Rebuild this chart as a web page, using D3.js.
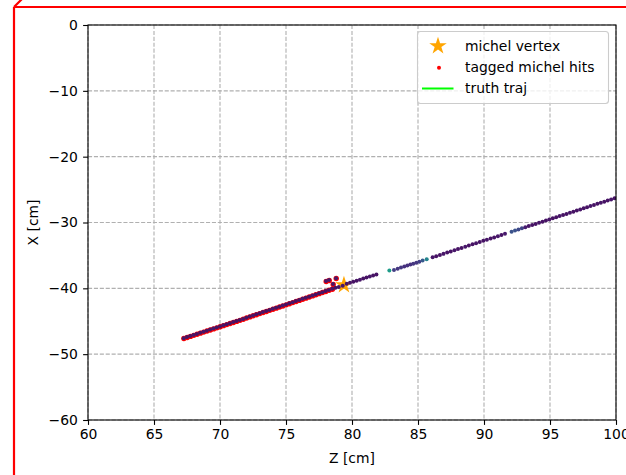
<!DOCTYPE html>
<html><head><meta charset="utf-8">
<script src="https://cdn.jsdelivr.net/npm/d3@7"></script>
<style>body{margin:0;background:#fff} svg{display:block} text{font-family:"DejaVu Sans",sans-serif}</style>
</head><body><svg id="c" width="626" height="475"></svg>
<script>
const xTicks=[60,65,70,75,80,85,90,95,100];
const yTicks=[0,-10,-20,-30,-40,-50,-60];
const xDomain=[60,100], yDomain=[-60,0];

// all reconstructed hits (Z, X, normalised charge for viridis colour)
const hitZ=[67.25,67.50,67.75,68.00,68.25,68.50,68.75,69.00,69.25,69.50,69.75,70.00,70.25,70.50,70.75,71.00,71.25,71.50,71.75,72.00,72.25,72.50,72.75,73.00,73.25,73.50,73.75,74.00,74.25,74.50,74.75,75.00,75.25,75.50,75.75,76.00,76.25,76.50,76.75,77.00,77.25,77.50,77.75,78.00,78.25,78.50,
 78.75,79.00,79.30,
 79.60,79.85,80.10,80.35,80.60,80.85,81.10,81.35,81.60,81.85,
 78.03,78.26,78.79,78.56,
 82.83,83.18,83.46,83.71,83.96,84.19,84.42,84.64,84.87,85.10,85.35,85.66,
 86.11,86.38,86.66,86.93,87.21,87.48,87.76,88.03,88.30,88.58,88.85,89.13,89.40,89.68,89.95,90.22,90.50,90.77,91.05,91.32,91.59,
 92.09,92.35,92.61,92.87,93.13,93.39,93.65,93.91,94.17,94.43,94.69,94.95,95.21,95.47,95.73,95.99,96.25,96.51,96.77,97.03,97.29,97.55,97.81,98.07,98.33,98.59,98.85,99.11,99.37,99.63,99.89];
const hitX=[-47.57,-47.40,-47.24,-47.08,-46.92,-46.75,-46.59,-46.43,-46.27,-46.10,-45.94,-45.78,-45.61,-45.45,-45.29,-45.13,-44.96,-44.80,-44.64,-44.45,-44.28,-44.11,-43.95,-43.78,-43.61,-43.45,-43.28,-43.12,-42.95,-42.78,-42.62,-42.45,-42.28,-42.11,-41.94,-41.77,-41.60,-41.43,-41.26,-41.09,-40.92,-40.75,-40.58,-40.41,-40.24,-40.07,
 -39.92,-39.78,-39.60,
 -39.30,-39.15,-39.00,-38.85,-38.70,-38.50,-38.35,-38.20,-38.05,-37.90,
 -38.90,-38.75,-38.45,-39.36,
 -37.30,-37.20,-37.01,-36.85,-36.69,-36.54,-36.39,-36.25,-36.10,-35.95,-35.78,-35.58,
 -35.29,-35.11,-34.93,-34.76,-34.57,-34.40,-34.22,-34.04,-33.86,-33.68,-33.51,-33.32,-33.15,-32.97,-32.79,-32.61,-32.43,-32.26,-32.07,-31.90,-31.72,
 -31.40,-31.23,-31.06,-30.89,-30.72,-30.55,-30.38,-30.21,-30.04,-29.87,-29.70,-29.53,-29.37,-29.20,-29.03,-28.86,-28.69,-28.52,-28.35,-28.18,-28.01,-27.84,-27.67,-27.50,-27.33,-27.16,-27.00,-26.83,-26.66,-26.49,-26.32];
const hitQ=[0.06,0.05,0.05,0.06,0.05,0.05,0.06,0.05,0.05,0.06,0.05,0.05,0.06,0.05,0.05,0.06,0.05,0.05,0.06,0.05,0.05,0.06,0.05,0.05,0.06,0.05,0.05,0.06,0.05,0.05,0.06,0.05,0.05,0.06,0.05,0.05,0.06,0.05,0.05,0.06,0.05,0.05,0.06,0.05,0.05,0.06,
 0.05,0.05,0.06,
 0.05,0.06,0.05,0.05,0.06,0.05,0.05,0.06,0.05,0.05,
 0.06,0.06,0.06,0.06,
 0.55,0.18,0.16,0.16,0.14,0.14,0.14,0.16,0.16,0.18,0.28,0.45,
 0.06,0.05,0.05,0.06,0.05,0.05,0.06,0.05,0.05,0.06,0.05,0.05,0.06,0.05,0.05,0.06,0.05,0.05,0.06,0.05,0.07,
 0.25,0.25,0.22,0.20,0.08,0.06,0.05,0.05,0.06,0.05,0.05,0.06,0.05,0.05,0.06,0.05,0.05,0.06,0.05,0.05,0.06,0.05,0.05,0.06,0.05,0.05,0.06,0.05,0.05,0.06,0.05];

// tagged michel hits
const michelZ=[67.25,67.50,67.75,68.00,68.25,68.50,68.75,69.00,69.25,69.50,69.75,70.00,70.25,70.50,70.75,71.00,71.25,71.50,71.75,72.00,72.25,72.50,72.75,73.00,73.25,73.50,73.75,74.00,74.25,74.50,74.75,75.00,75.25,75.50,75.75,76.00,76.25,76.50,76.75,77.00,77.25,77.50,77.75,78.00,78.25,78.50,78.03,78.26,78.79,78.56];
const michelX=[-47.57,-47.40,-47.24,-47.08,-46.92,-46.75,-46.59,-46.43,-46.27,-46.10,-45.94,-45.78,-45.61,-45.45,-45.29,-45.13,-44.96,-44.80,-44.64,-44.45,-44.28,-44.11,-43.95,-43.78,-43.61,-43.45,-43.28,-43.12,-42.95,-42.78,-42.62,-42.45,-42.28,-42.11,-41.94,-41.77,-41.60,-41.43,-41.26,-41.09,-40.92,-40.75,-40.58,-40.41,-40.24,-40.07,-38.90,-38.75,-38.45,-39.36];

// michel vertex
const vertexZ=[79.39], vertexX=[-39.50];

const legendLabels=["michel vertex","tagged michel hits","truth traj"];

const svg=d3.select("#c");
const L=88,R=616,T=25,B=420;
const x=d3.scaleLinear().domain(xDomain).range([L,R]);
const y=d3.scaleLinear().domain(yDomain).range([B,T]);
const color=d3.scaleSequential(d3.interpolateViridis).domain([0,1]);
const FS="13.9px";

// red outer frame
svg.append("path").attr("d","M14,7 L640,7 M14,7 L14,480 M14,7 L24,-3")
  .attr("fill","none").attr("stroke","#ff0000").attr("stroke-width",2.2);

// grid
const g=svg.append("g");
g.selectAll(".gx").data(xTicks).join("line")
  .attr("x1",d=>x(d)).attr("x2",d=>x(d)).attr("y1",T).attr("y2",B)
  .attr("stroke","#b0b0b0").attr("stroke-width",1.1).attr("stroke-dasharray","4.1,1.8");
g.selectAll(".gy").data(yTicks).join("line")
  .attr("y1",d=>y(d)).attr("y2",d=>y(d)).attr("x1",L).attr("x2",R)
  .attr("stroke","#b0b0b0").attr("stroke-width",1.1).attr("stroke-dasharray","4.1,1.8");

svg.append("clipPath").attr("id","clip").append("rect").attr("x",L).attr("y",T).attr("width",R-L).attr("height",B-T);
const plot=svg.append("g").attr("clip-path","url(#clip)");

// vertex star
plot.selectAll(".vtx").data(vertexZ).join("path")
  .attr("d",d3.symbol(d3.symbolStar,95))
  .attr("transform",(d,i)=>`translate(${x(d)},${y(vertexX[i])})`)
  .attr("fill","#ffa500");
// tagged michel hits
plot.selectAll(".mh").data(michelZ).join("circle")
  .attr("cx",d=>x(d)+0.2).attr("cy",(d,i)=>y(michelX[i])+0.4).attr("r",2.7).attr("fill","#ff0000");
// hits
plot.selectAll(".hit").data(hitZ).join("circle")
  .attr("cx",d=>x(d)).attr("cy",(d,i)=>y(hitX[i])).attr("r",2.0).attr("fill",(d,i)=>color(hitQ[i]));

// axes
const ax=svg.append("g").attr("transform",`translate(0,${B})`)
  .call(d3.axisBottom(x).tickValues(xTicks).tickSize(4.9).tickPadding(4.6).tickFormat(d3.format("d")));
const ay=svg.append("g").attr("transform",`translate(${L},0)`)
  .call(d3.axisLeft(y).tickValues(yTicks).tickSize(4.9).tickPadding(5.2).tickFormat(d3.format("d")));
[ax,ay].forEach(a=>{a.select(".domain").remove();
  a.selectAll("text").attr("font-size",FS).attr("fill","#000").attr("font-family","DejaVu Sans");
  a.selectAll("line").attr("stroke","#000").attr("stroke-width",1.1);});
svg.append("rect").attr("x",L).attr("y",T).attr("width",R-L).attr("height",B-T)
  .attr("fill","none").attr("stroke","#000").attr("stroke-width",1.1);

svg.append("text").attr("x",(L+R)/2).attr("y",463).attr("text-anchor","middle")
  .attr("font-size",FS).text("Z [cm]");
svg.append("text").attr("transform",`translate(38,${(T+B)/2}) rotate(-90)`).attr("text-anchor","middle")
  .attr("font-size",FS).text("X [cm]");

// legend
const lg=svg.append("g");
lg.append("rect").attr("x",417.5).attr("y",31.5).attr("width",191).attr("height",72).attr("rx",3)
  .attr("fill","#fff").attr("fill-opacity",0.8).attr("stroke","#cccccc").attr("stroke-width",1.1);
lg.append("path").attr("d",d3.symbol(d3.symbolStar,95)).attr("transform","translate(438,46)").attr("fill","#ffa500");
lg.append("circle").attr("cx",439).attr("cy",67.7).attr("r",2.0).attr("fill","#ff0000");
lg.append("line").attr("x1",422).attr("x2",453.5).attr("y1",88.5).attr("y2",88.5).attr("stroke","#00ff00").attr("stroke-width",2);
lg.selectAll(".lt").data(legendLabels).join("text")
  .attr("x",465).attr("y",(d,i)=>51+i*21.2).attr("font-size",FS).attr("fill","#000").text(d=>d);
</script></body></html>
